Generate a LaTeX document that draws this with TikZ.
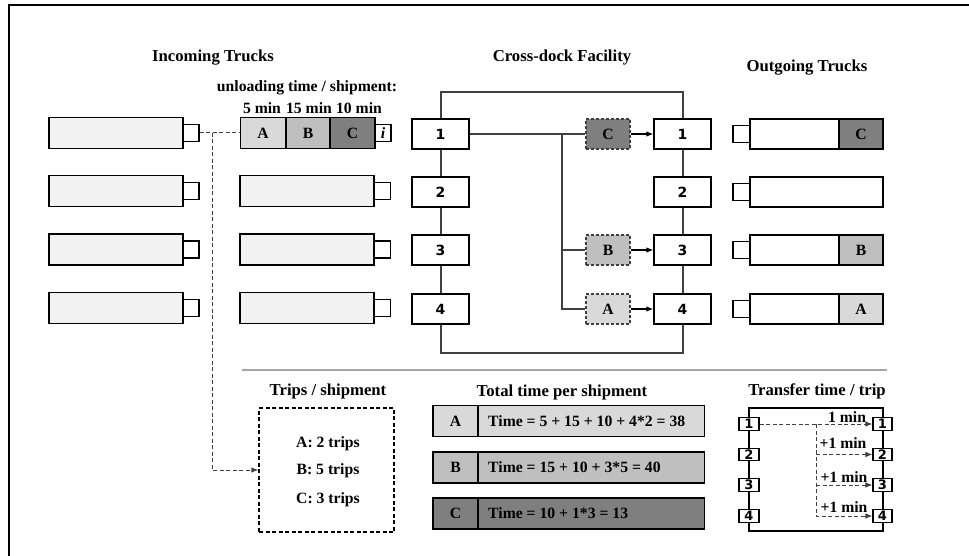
\documentclass[tikz,border=0pt]{standalone}
\usepackage{fontspec}
\setmainfont{Liberation Serif}
\newfontfamily\dockfont{DejaVu Sans}
\usetikzlibrary{arrows.meta,calc}
\definecolor{truckfill}{HTML}{F2F2F2}
\definecolor{cargoA}{HTML}{D9D9D9}
\definecolor{cargoB}{HTML}{BFBFBF}
\definecolor{cargoC}{HTML}{7F7F7F}
\definecolor{lineg}{HTML}{404040}
\definecolor{sepg}{HTML}{A6A6A6}
\begin{document}
\begin{tikzpicture}[x=1pt,y=-1pt,
  txt/.style={font=\fontsize{15.7}{18}\selectfont\bfseries, inner sep=0pt},
  ttl/.style={font=\fontsize{16.7}{19}\selectfont\bfseries, inner sep=0pt},
  box/.style={draw=black, line width=1.2pt, inner sep=0pt, rectangle},
  truck/.style={box, fill=truckfill, minimum width=134pt, minimum height=31pt},
  cab/.style={box, fill=white, minimum width=16pt, minimum height=17pt},
  cargo/.style={box, minimum height=31pt, font=\fontsize{15.7}{18}\selectfont\bfseries},
  dock/.style={box, fill=white, minimum width=57pt, minimum height=30pt, font=\dockfont\bfseries\fontsize{14}{14}\selectfont},
  dcargo/.style={draw=lineg, dash pattern=on 3pt off 2pt, line width=1.2pt, inner sep=0pt, minimum width=44pt, minimum height=30pt, font=\fontsize{15.7}{18}\selectfont\bfseries},
  tdock/.style={box, fill=white, minimum width=20pt, minimum height=12.5pt, font=\dockfont\bfseries\fontsize{13}{13}\selectfont},
  facline/.style={draw=lineg, line width=1.2pt},
  arr/.style={-{Latex[length=7pt,width=5.5pt]}},
  gdash/.style={draw=lineg, dash pattern=on 4pt off 2.5pt, line width=1pt},
  bar/.style={box, minimum height=31pt},
]
\useasboundingbox (0,0) rectangle (969,556);
% open frame
\draw[black, line width=1.2pt] (9,556) -- (9,5) -- (969,5);

% titles
\node[ttl] (tin) at (213,58) {Incoming Trucks};
\node[ttl] (tcd) at (562,58) {Cross-dock Facility};
\node[ttl] (tout) at (807,68) {Outgoing Trucks};
\node[txt] (unl) at (307,88) {unloading time / shipment:};
\node[txt] (m5) at (262,108) {5 min};
\node[txt] (m15) at (309,108) {15 min};
\node[txt] (m10) at (359,108) {10 min};

% incoming trucks column 1
\foreach \r/\y in {1/133,2/191,3/249.5,4/308}{
  \node[truck] (ia\r) at (116,\y) {};
  \node[cab] (iac\r) at (191,\y) {};
}
% incoming trucks column 2
\foreach \r/\y in {2/191,3/249.5,4/308}{
  \node[truck] (ib\r) at (307,\y) {};
  \node[cab] (ibc\r) at (382.5,\y) {};
}
\node[cargo, fill=cargoA, minimum width=45pt] (cA) at (263,133) {A};
\node[cargo, fill=cargoB, minimum width=44pt] (cB) at (308,133) {B};
\node[cargo, fill=cargoC, minimum width=45pt] (cC) at (352.5,133) {C};
\node[cab, font=\fontsize{15.7}{18}\selectfont\bfseries\itshape] (ci) at (383,133) {i};

% cross-dock facility
\draw[facline] (441,92) rectangle (683,353);
\foreach \r/\y in {1/134,2/192,3/250,4/309}{
  \node[dock] (ld\r) at (440.5,\y) {\r};
  \node[dock] (rd\r) at (682.5,\y) {\r};
}
\node[dcargo, fill=cargoC] (dC) at (608,134) {C};
\node[dcargo, fill=cargoB] (dB) at (608,250) {B};
\node[dcargo, fill=cargoA] (dA) at (608,309) {A};
\coordinate (br) at (562,134);
\draw[facline] (ld1.east) -- (dC.west);
\draw[facline] (br) |- (dA.west);
\draw[facline] (br |- dB.west) -- (dB.west);
\draw[black, line width=1.2pt, arr] (dC.east) -- (rd1.west);
\draw[black, line width=1.2pt, arr] (dB.east) -- (rd3.west);
\draw[black, line width=1.2pt, arr] (dA.east) -- (rd4.west);

% outgoing trucks
\foreach \r/\y in {1/134,2/192,3/250,4/309}{
  \node[cab, minimum width=17pt] (oc\r) at (741.5,\y) {};
  \node[box, fill=white, minimum width=133pt, minimum height=30pt] (ot\r) at (816.5,\y) {};
}
\node[cargo, fill=cargoC, minimum width=44pt, minimum height=30pt] (oC) at (861,134) {C};
\node[cargo, fill=cargoB, minimum width=44pt, minimum height=30pt] (oB) at (861,250) {B};
\node[cargo, fill=cargoA, minimum width=44pt, minimum height=30pt] (oA) at (861,309) {A};

% separator
\draw[sepg, line width=1.5pt] (242,370) -- (887,370);

% trips / shipment
\node[ttl] (ttrip) at (328,391) {Trips / shipment};
\node[draw=black, dash pattern=on 4pt off 2.5pt, line width=1.2pt, minimum width=135pt, minimum height=124pt, inner sep=0pt] (trips) at (326.5,470) {};
\node[txt] (tA) at (328,444) {A: 2 trips};
\node[txt] (tB) at (328,471) {B: 5 trips};
\node[txt] (tC) at (328,500) {C: 3 trips};
\coordinate (j1) at (212,133);
\draw[gdash] (iac1.east) -- (cA.west);
\draw[gdash, arr] (j1) |- (trips.west);

% total time per shipment
\node[ttl] (ttot) at (562,392) {Total time per shipment};
\node[bar, fill=cargoA, minimum width=226pt, anchor=west] (bA) at (478,421) {};
\node[bar, fill=cargoA, minimum width=45pt, font=\fontsize{15.7}{18}\selectfont\bfseries] (lA) at (455.5,421) {A};
\node[txt, anchor=west] (xA) at (488,421) {Time = 5 + 15 + 10 + 4*2 = 38};
\node[bar, fill=cargoB, minimum width=226pt, anchor=west] (bB) at (478,467.5) {};
\node[bar, fill=cargoB, minimum width=45pt, font=\fontsize{15.7}{18}\selectfont\bfseries] (lB) at (455.5,467.5) {B};
\node[txt, anchor=west] (xB) at (488,467.5) {Time = 15 + 10 + 3*5 = 40};
\node[bar, fill=cargoC, minimum width=226pt, anchor=west] (bC) at (478,513.5) {};
\node[bar, fill=cargoC, minimum width=45pt, font=\fontsize{15.7}{18}\selectfont\bfseries] (lC) at (455.5,513.5) {C};
\node[txt, anchor=west] (xC) at (488,513.5) {Time = 10 + 1*3 = 13};

% transfer time / trip
\node[ttl] (ttr) at (817,391) {Transfer time / trip};
\draw[black, line width=1.2pt] (749,408) rectangle (883,531);
\foreach \r/\y in {1/424,2/454.5,3/485,4/516}{
  \node[tdock] (tl\r) at (749,\y) {\r};
  \node[tdock, minimum width=19pt] (tr\r) at (882.5,\y) {\r};
}
\coordinate (tv) at (816,424);
\draw[gdash, arr] (tl1.east) -- (tr1.west);
\draw[gdash, arr] (tv) |- (tr4.west);
\draw[gdash, arr] (tv |- tr2.west) -- (tr2.west);
\draw[gdash, arr] (tv |- tr3.west) -- (tr3.west);
\node[txt] (l1) at (847,417) {1 min};
\node[txt] (l2) at (843,443) {+1 min};
\node[txt] (l3) at (844,477) {+1 min};
\node[txt] (l4) at (844,507) {+1 min};
\end{tikzpicture}
\end{document}
